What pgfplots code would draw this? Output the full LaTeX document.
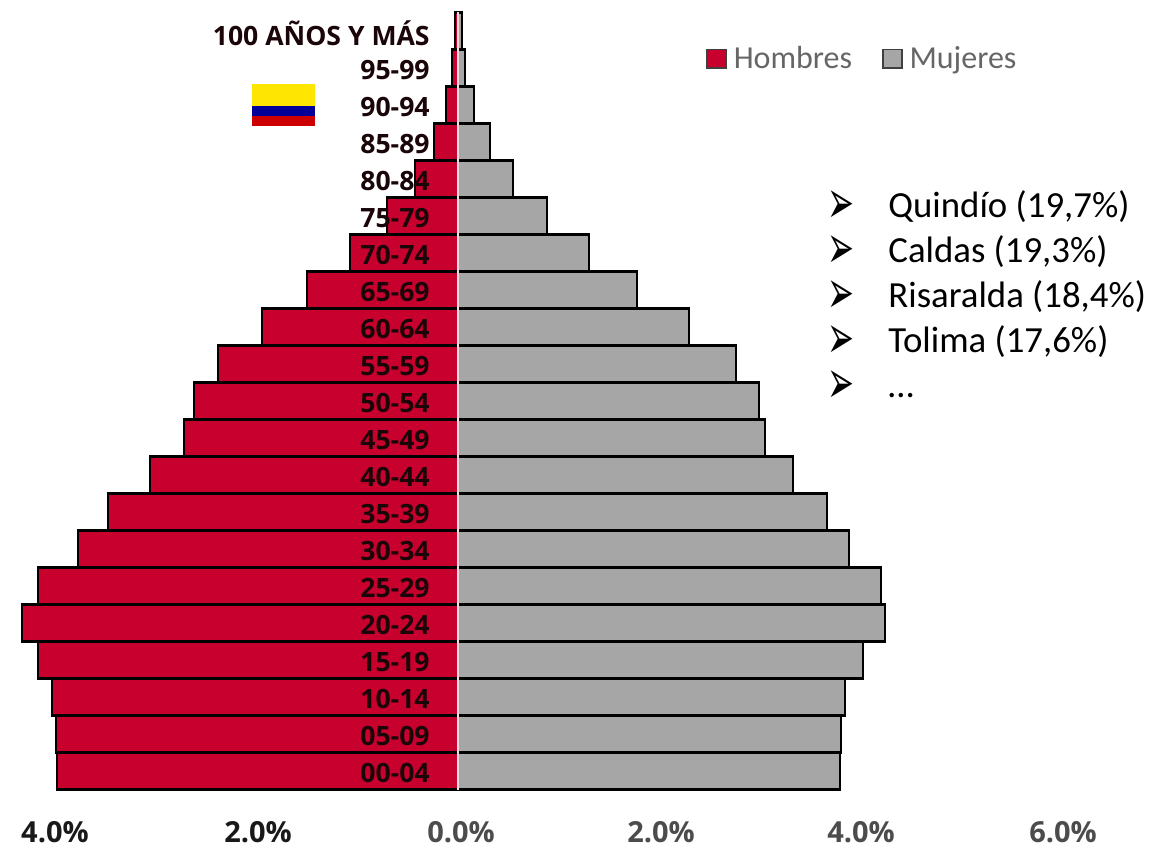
\documentclass[border=0pt]{standalone}
\usepackage{pgfplots}
\pgfplotsset{compat=1.18}
\usepackage{fontspec}
\setmainfont{Open Sans}
\newfontfamily\calfont{Carlito}
\newfontfamily\dvfont{DejaVu Sans}
\newfontfamily\osfont{Open Sans}
\definecolor{rojo}{HTML}{C8002E}
\definecolor{gris}{HTML}{A6A6A6}
\definecolor{oscuro}{HTML}{1A0508}
\begin{document}
\begin{tikzpicture}
\path[use as bounding box] (0,0) rectangle (575.5pt,423.5pt);
\begin{axis}[
  at={(0,0)},anchor=south west,
  scale only axis,width=575.5pt,height=423.5pt,
  xmin=-4.58,xmax=6.93,ymin=-2.054,ymax=20.838,
  axis line style={draw=none},
  clip=false,
  ytick=\empty,
  xtick={-4.03,-2,0.03,2.03,4.03,6.05},
  xticklabels={\textcolor{black!90}{4.0\%},\textcolor{black!90}{2.0\%},\textcolor{black!70}{0.0\%},\textcolor{black!70}{2.0\%},\textcolor{black!70}{4.0\%},\textcolor{black!70}{6.0\%}},
  xtick style={draw=none},
  xticklabel style={font=\osfont\bfseries\fontsize{14.5}{16}\selectfont,anchor=base,yshift=2.5pt},
  xticklabel shift=0pt,
  major tick length=0pt,
  xbar,
  bar width=18.5pt,
  bar shift=0pt,
  legend style={draw=none,fill=none,at={(axis cs:2.48,19.25)},anchor=west,legend columns=2,
     font=\calfont\fontsize{16}{17}\selectfont,text=black!60,inner sep=0pt,
     /tikz/every even column/.style={column sep=11.5pt},
     nodes={inner xsep=3.5pt}},
  legend cell align=left,
]
\addplot[draw=black,line width=1.2pt,fill=rojo,/pgfplots/legend image code/.code={\draw[draw=black!75,line width=0.8pt,fill=rojo] (0pt,-4.6pt) rectangle (9.4pt,4.6pt);}] coordinates {
(-4.01,0) (-4.02,1) (-4.06,2) (-4.20,3) (-4.36,4) (-4.20,5) (-3.80,6) (-3.50,7)
(-3.08,8) (-2.74,9) (-2.64,10) (-2.40,11) (-1.96,12) (-1.51,13) (-1.08,14)
(-0.71,15) (-0.43,16) (-0.24,17) (-0.12,18) (-0.06,19) (-0.03,20)};
\addplot[draw=black,line width=1.2pt,fill=gris,/pgfplots/legend image code/.code={\draw[draw=black!75,line width=0.8pt,fill=gris] (0pt,-4.6pt) rectangle (9.4pt,4.6pt);}] coordinates {
(3.82,0) (3.83,1) (3.87,2) (4.05,3) (4.27,4) (4.23,5) (3.91,6) (3.69,7)
(3.35,8) (3.07,9) (3.01,10) (2.78,11) (2.31,12) (1.79,13) (1.31,14)
(0.89,15) (0.55,16) (0.32,17) (0.16,18) (0.07,19) (0.04,20)};
\legend{Hombres,Mujeres}
\draw[white!85!rojo,line width=0.9pt] (axis cs:0,-0.5) -- (axis cs:0,20.5);
\foreach \k/\t in {0/00-04,1/05-09,2/10-14,3/15-19,4/20-24,5/25-29,6/30-34,7/35-39,8/40-44,9/45-49,10/50-54,11/55-59,12/60-64,13/65-69,14/70-74,15/75-79,16/80-84,17/85-89,18/90-94,19/95-99,20/100 AÑOS Y MÁS}{
  \edef\tmp{\noexpand\node[anchor=east,inner sep=0pt,font=\noexpand\osfont\noexpand\bfseries\noexpand\fontsize{13.3}{15}\noexpand\selectfont,text=oscuro] at (axis cs:-0.28,\k-0.05) {\t};}\tmp
}
\end{axis}
% flag
\fill[yellow!88!orange] (126pt,381.5pt) rectangle (157.5pt,370.5pt);
\fill[blue!60!black] (126pt,370.5pt) rectangle (157.5pt,365.5pt);
\fill[red!80!black] (126pt,365.5pt) rectangle (157.5pt,360.5pt);
\foreach \n/\t in {0/{Quindío (19,7\%)},1/{Caldas (19,3\%)},2/{Risaralda (18,4\%)},3/{Tolima (17,6\%)},4/{…}}{
  \node[inner sep=0pt,anchor=center,font=\dvfont\fontsize{14}{14}\selectfont,xscale=1.15,yscale=2.2,transform shape] at (420.5pt,{320pt-\n*22.5pt}) {➢};
  \node[inner sep=0pt,anchor=base west,font=\calfont\fontsize{18.4}{18}\selectfont] at (444pt,{314.5pt-\n*22.5pt}) {\t};
}
\end{tikzpicture}
\end{document}
